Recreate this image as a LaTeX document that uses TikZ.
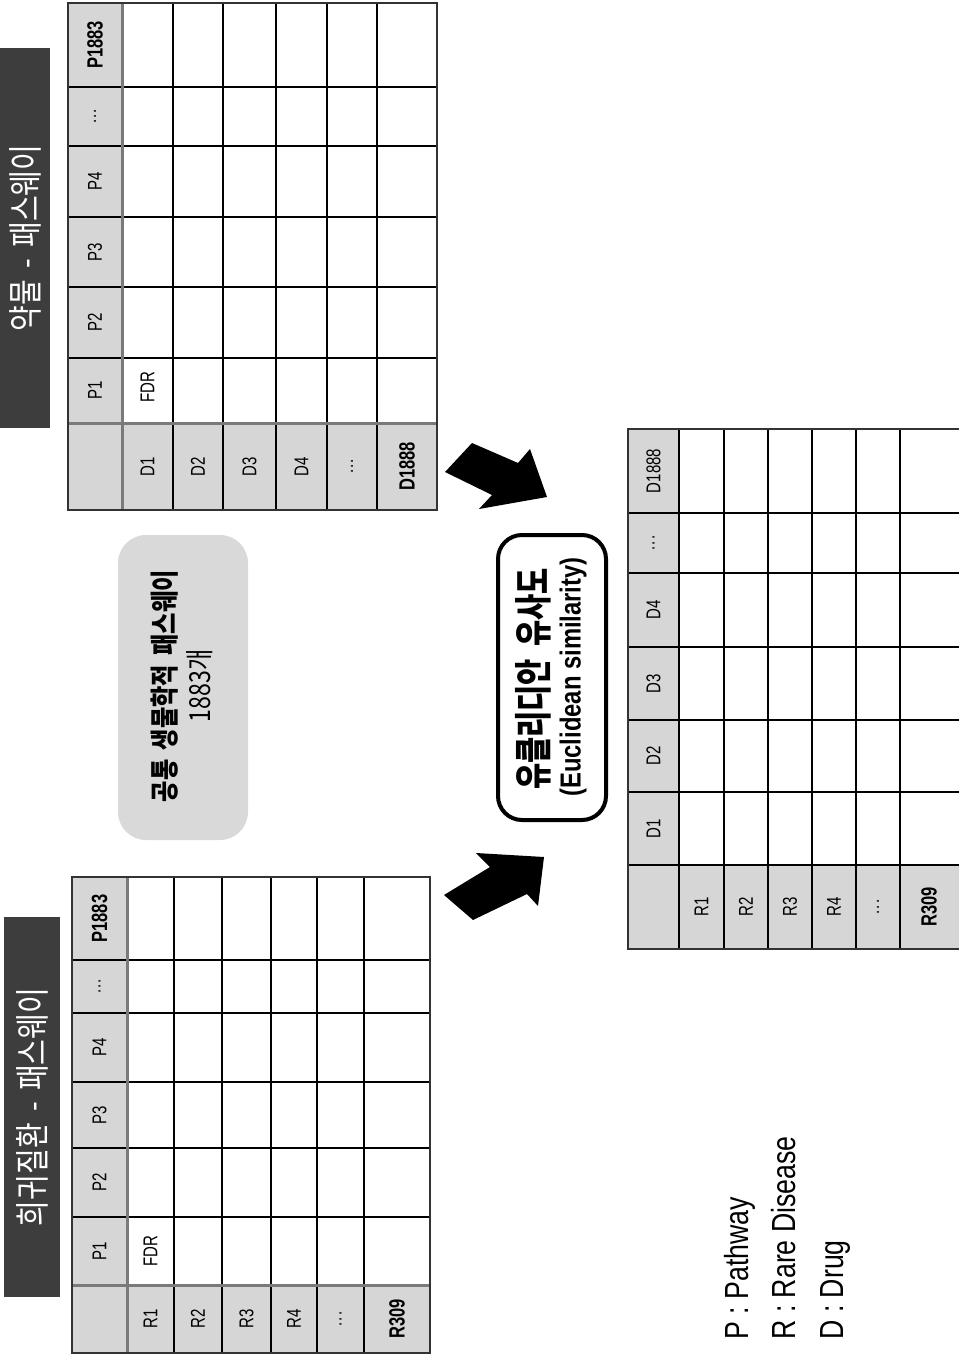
\documentclass[tikz,border=0pt]{standalone}
\usepackage{fontspec}
\setmainfont{Liberation Sans}
\newfontfamily\krfont[FakeStretch=0.8]{Noto Sans CJK KR}
\newfontfamily\krnarrow[FakeStretch=0.75]{Noto Sans CJK KR}
\newfontfamily\narfont[FakeStretch=0.75]{Liberation Sans}
\newfontfamily\eufont[FakeStretch=0.82]{Liberation Sans}
\newfontfamily\legfont[FakeStretch=0.8]{Liberation Sans}
\newcommand\threedots{.\kern0.5pt.\kern0.5pt.}
\newcommand\wsp{\hspace{0.32em}}
\definecolor{hdr}{HTML}{D6D6D6}
\definecolor{barc}{HTML}{3D3D3D}
\definecolor{sepc}{HTML}{7A7A7A}
\definecolor{boxc}{HTML}{D9D9D9}
\begin{document}
\begin{tikzpicture}[x=0.5pt,y=-0.5pt,
  lab/.style={rotate=90, inner sep=0pt, font=\narfont\fontsize{10}{12}\selectfont},
  blab/.style={rotate=90, inner sep=0pt, font=\narfont\bfseries\fontsize{11}{13}\selectfont},
  gridline/.style={black, line width=0.6pt},
  hsep/.style={sepc, line width=1.5pt},
  outer/.style={black!80, line width=0.8pt},
  titlebar/.style={fill=barc, draw=none},
  titletext/.style={rotate=90, text=white, inner sep=0pt, font=\krfont\fontsize{17.5}{20}\selectfont},
  legend/.style={rotate=90, anchor=base west, inner sep=0pt, font=\legfont\fontsize{16.7}{19}\selectfont},
  blockarrow/.style={fill=black}
]
\useasboundingbox (0,0) rectangle (958,1358);
\fill[white] (0,0) rectangle (958,1358);

% ---------- Title bars ----------
\fill[titlebar] (4,917) rectangle (60,1297);
\node[titletext] (t1title) at (32,1107) {희귀질환{\wsp}-{\wsp}패스웨이};
\fill[titlebar] (0,48) rectangle (50,428);
\node[titletext] (t2title) at (25,238) {약물{\wsp}-{\wsp}패스웨이};

% ---------- Table 1 (rare disease - pathway) ----------
\fill[hdr] (72,877) rectangle (127,1353);
\fill[hdr] (127,1285) rectangle (430,1353);
\foreach \x in {174,222,271,317,364} \draw[gridline] (\x,877) -- (\x,1353);
\foreach \y in {960,1013,1082,1148,1217} \draw[gridline] (72,\y) -- (430,\y);
\draw[hsep] (127,877) -- (127,1353);
\draw[hsep] (72,1285) -- (430,1285);
\draw[outer] (72,877) rectangle (430,1353);
\foreach \t/\y [count=\i] in {P1/1251,P2/1182.5,P3/1115,P4/1047.5,\threedots/986.5}
  \node[lab] (t1c\i) at (99.5,\y) {\t};
\node[blab] (t1c6) at (99.5,918.5) {P1883};
\foreach \t/\x [count=\i] in {R1/150.5,R2/198,R3/246.5,R4/294,\threedots/340.5}
  \node[lab] (t1r\i) at (\x,1319) {\t};
\node[blab] (t1r6) at (397,1319) {R309};
\node[lab] (t1fdr) at (150.5,1251) {FDR};

% ---------- Table 2 (drug - pathway) ----------
\fill[hdr] (68,3) rectangle (122,510);
\fill[hdr] (122,423) rectangle (437,510);
\foreach \x in {173,223,276,327,377} \draw[gridline] (\x,3) -- (\x,510);
\foreach \y in {87,146,217,287,358} \draw[gridline] (68,\y) -- (437,\y);
\draw[hsep] (122,3) -- (122,510);
\draw[hsep] (68,423) -- (437,423);
\draw[outer] (68,3) rectangle (437,510);
\foreach \t/\y [count=\i] in {P1/390.5,P2/322.5,P3/252,P4/181.5,\threedots/116.5}
  \node[lab] (t2c\i) at (95,\y) {\t};
\node[blab] (t2c6) at (95,45) {P1883};
\foreach \t/\x [count=\i] in {D1/147.5,D2/198,D3/249.5,D4/301.5,\threedots/352}
  \node[lab] (t2r\i) at (\x,466.5) {\t};
\node[blab] (t2r6) at (407,466.5) {D1888};
\node[lab] (t2fdr) at (147.5,387) {FDR};

% ---------- Table 3 (rare disease - drug similarity) ----------
\fill[hdr] (628,429) rectangle (679,949);
\fill[hdr] (679,865) rectangle (962,949);
\foreach \x in {724,768,812,856,900} \draw[gridline] (\x,429) -- (\x,949);
\foreach \y in {513,573,647,720,792} \draw[gridline] (628,\y) -- (962,\y);
\draw[gridline] (679,429) -- (679,949);
\draw[gridline] (628,865) -- (962,865);
\draw[outer] (628,429) rectangle (962,949);
\foreach \t/\y [count=\i] in {D1/828.5,D2/756,D3/683.5,D4/610,\threedots/543,D1888/471}
  \node[lab] (t3c\i) at (653.5,\y) {\t};
\foreach \t/\x [count=\i] in {R1/701.5,R2/746,R3/790,R4/834,\threedots/878}
  \node[lab] (t3r\i) at (\x,907) {\t};
\node[blab] (t3r6) at (929,907) {R309};

% ---------- Gray info box ----------
\node[rotate=90, fill=boxc, rounded corners=14pt, minimum width=152.5pt, minimum height=65pt, inner sep=0pt] (common) at (183,687.5) {};
\node[rotate=90, inner sep=0pt, align=center, font=\krfont\fontsize{14.5}{17.5}\selectfont] (commontext) at (182,686)
  {\bfseries 공통{\wsp}생물학적{\wsp}패스웨이\\ 1883개};

% ---------- Euclidean similarity box ----------
\node[rotate=90, draw=black, fill=white, line width=2pt, rounded corners=12pt, minimum width=142.5pt, minimum height=54pt, inner sep=0pt] (euc) at (552,677.5) {};
\node[rotate=90, inner sep=0pt, font=\krnarrow\bfseries\fontsize{19}{21}\selectfont] (euckr) at (533,679) {유클리디안{\wsp}유사도};
\node[rotate=90, inner sep=0pt, font=\eufont\bfseries\fontsize{14.5}{17}\selectfont] (eucen) at (573,677) {(Euclidean similarity)};

% ---------- Block arrows ----------
\fill[blockarrow] (445,472) -- (472,443) -- (518,463) -- (530,449) -- (547,497) -- (479,509) -- (492,495) -- cycle;
\fill[blockarrow] (476,853) -- (544,857) -- (538,906) -- (527,894) -- (473,920) -- (444,895) -- (490,867) -- cycle;

% ---------- Legend ----------
\node[legend] (legP) at (748,1340) {P : Pathway};
\node[legend] (legR) at (795,1340) {R : Rare Disease};
\node[legend] (legD) at (843,1340) {D : Drug};
\end{tikzpicture}
\end{document}
